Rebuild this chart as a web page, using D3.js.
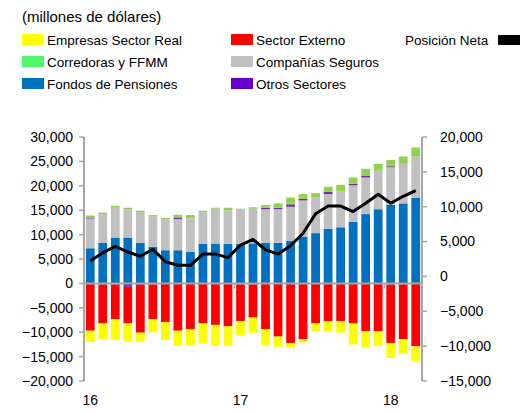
<!DOCTYPE html>
<html>
<head>
<meta charset="utf-8">
<script src="https://cdn.jsdelivr.net/npm/d3@7/dist/d3.min.js"></script>
<style>
  body { margin: 0; background: #fff; }
  text { font-family: "Liberation Sans", Arial, sans-serif; fill: #000; }
</style>
</head>
<body>
<svg id="chart" width="526" height="412"></svg>
<script>
// months Jan-2016 .. Mar-2018
const months = d3.range(27).map((i) => i);
const yearLabels = [{ i: 0, t: "16" }, { i: 12, t: "17" }, { i: 24, t: "18" }];

// positive stack (millions USD)
const fondos = [7200, 8300, 9400, 9400, 8300, 7500, 6800, 6800, 6500, 8100, 8100, 8100, 8100, 8200, 8300, 8300, 8700, 9600, 10300, 11200, 11500, 12600, 14200, 15200, 16100, 16400, 17600];
const seguros = [6100, 5900, 6100, 5800, 6300, 6200, 6300, 6400, 6800, 6500, 7200, 6900, 7000, 7100, 6900, 6900, 7000, 7400, 7300, 7100, 7300, 7500, 7500, 7900, 7700, 8100, 8400];
const otrosPos = [200, 0, 0, 0, 0, 0, 0, 300, 0, 0, 0, 0, 0, 0, 300, 300, 500, 300, 0, 500, 0, 300, 400, 0, 200, 0, 0];
const corredoras = [400, 300, 400, 300, 300, 300, 300, 550, 700, 300, 200, 500, 200, 300, 550, 900, 1400, 1000, 900, 1000, 1400, 1300, 1400, 1400, 1300, 1500, 1850];

// negative stack
const otrosNeg = [0, -200, -200, -700, -200, -200, 0, 0, 0, 0, 0, 0, -200, -200, 0, 0, 0, 0, 0, 0, 0, 0, 0, 0, -200, -200, 0];
const externo = [-9700, -8000, -7100, -7500, -9900, -7100, -7900, -9700, -9400, -8200, -8500, -8800, -7500, -6800, -9400, -10900, -12200, -11400, -8200, -7700, -7700, -8200, -9800, -9800, -12000, -11200, -12900];
const empresasReal = [-2300, -3200, -4300, -3800, -1900, -2700, -3700, -3100, -3200, -4100, -4300, -4000, -3000, -3100, -3200, -2100, -900, -700, -1600, -2100, -2400, -4300, -3300, -3000, -3100, -3000, -3000];

// net position (right axis)
const neta = [2200, 3400, 4300, 3500, 2900, 3900, 2100, 1600, 1600, 3200, 3200, 2700, 4500, 5300, 3800, 3200, 4400, 6200, 9000, 10100, 10100, 9300, 10500, 11800, 10500, 11500, 12300];

const leftTicks = d3.range(-20000, 30001, 5000);
const rightTicks = d3.range(-15000, 20001, 5000);

const colors = {
  fondos: "#0070C0",
  seguros: "#C0C0C0",
  otros: "#7030A0",
  corredoras: "#92D050",
  externo: "#FF0000",
  empresas: "#FFFF00",
};

const svg = d3.select("#chart");
const fmt = d3.format(",");

const x0 = 84, x1 = 422, yTop = 137, yBot = 381;

const x = d3.scaleBand().domain(months).range([x0, x1]).paddingInner(0.3).paddingOuter(0.15);
const yL = d3.scaleLinear().domain([-20000, 30000]).range([yBot, yTop]);
const yR = d3.scaleLinear().domain([-15000, 20000]).range([yBot, yTop]);

// build stacked segments
const segs = [];
months.forEach((i) => {
  let top = 0;
  [["fondos", fondos], ["seguros", seguros], ["otros", otrosPos], ["corredoras", corredoras]].forEach(([k, arr]) => {
    const v = arr[i];
    if (v > 0) segs.push({ i, k, a: top, b: top + v });
    top += v;
  });
  let bot = 0;
  [["otros", otrosNeg], ["externo", externo], ["empresas", empresasReal]].forEach(([k, arr]) => {
    const v = arr[i];
    if (v < 0) segs.push({ i, k, a: bot + v, b: bot });
    bot += v;
  });
});

svg.append("g")
  .selectAll("rect")
  .data(segs)
  .join("rect")
  .attr("x", (d) => x(d.i))
  .attr("width", x.bandwidth())
  .attr("y", (d) => yL(d.b))
  .attr("height", (d) => yL(d.a) - yL(d.b))
  .attr("fill", (d) => colors[d.k]);

// zero line and axes
const axisCol = "#A6A6A6";
svg.append("line")
  .attr("x1", x0).attr("x2", x1)
  .attr("y1", yL(0)).attr("y2", yL(0))
  .attr("stroke", axisCol).attr("stroke-width", 2);

[12, 24].forEach((i) => {
  const xx = x(i) - (x.step() - x.bandwidth()) / 2;
  svg.append("line")
    .attr("x1", xx).attr("x2", xx)
    .attr("y1", yL(0)).attr("y2", yL(0) + 5)
    .attr("stroke", axisCol).attr("stroke-width", 1.5);
});

const gl = svg.append("g");
gl.append("line").attr("x1", x0).attr("x2", x0).attr("y1", yTop).attr("y2", yBot)
  .attr("stroke", axisCol).attr("stroke-width", 2);
gl.selectAll("line.t").data(leftTicks).join("line").attr("class", "t")
  .attr("x1", x0 - 5).attr("x2", x0).attr("y1", (d) => yL(d)).attr("y2", (d) => yL(d))
  .attr("stroke", axisCol).attr("stroke-width", 1.5);
gl.selectAll("text").data(leftTicks).join("text")
  .attr("x", x0 - 11).attr("y", (d) => yL(d)).attr("dy", "0.35em")
  .attr("text-anchor", "end").style("font-size", "14px")
  .text((d) => fmt(d));

const gr = svg.append("g");
gr.append("line").attr("x1", x1).attr("x2", x1).attr("y1", yTop).attr("y2", yBot)
  .attr("stroke", axisCol).attr("stroke-width", 2);
gr.selectAll("line.t").data(rightTicks).join("line").attr("class", "t")
  .attr("x1", x1).attr("x2", x1 + 5).attr("y1", (d) => yR(d)).attr("y2", (d) => yR(d))
  .attr("stroke", axisCol).attr("stroke-width", 1.5);
gr.selectAll("text").data(rightTicks).join("text")
  .attr("x", x1 + 18).attr("y", (d) => yR(d)).attr("dy", "0.35em")
  .attr("text-anchor", "start").style("font-size", "14px")
  .text((d) => fmt(d));

svg.append("g").selectAll("text").data(yearLabels).join("text")
  .attr("x", (d) => x(d.i) + x.bandwidth() / 2)
  .attr("y", 405)
  .attr("text-anchor", "middle").style("font-size", "14px")
  .text((d) => d.t);

// net position line
svg.append("path")
  .datum(neta)
  .attr("fill", "none")
  .attr("stroke", "#000")
  .attr("stroke-width", 3)
  .attr("stroke-linejoin", "round")
  .attr("d", d3.line().x((d, i) => x(i) + x.bandwidth() / 2).y((d) => yR(d)));

// title + legend
svg.append("text").attr("x", 22).attr("y", 22).style("font-size", "15px").text("(millones de dólares)");

const legend = [
  { t: "Empresas Sector Real", c: "#FFFF00", col: 0, row: 0 },
  { t: "Corredoras y FFMM", c: "#4CF76A", col: 0, row: 1 },
  { t: "Fondos de Pensiones", c: "#0070C0", col: 0, row: 2 },
  { t: "Sector Externo", c: "#FF0000", col: 1, row: 0 },
  { t: "Compañías Seguros", c: "#C0C0C0", col: 1, row: 1 },
  { t: "Otros Sectores", c: "#6600CC", col: 1, row: 2 },
];
const colX = [22, 231];
const lg = svg.append("g").selectAll("g").data(legend).join("g")
  .attr("transform", (d) => `translate(${colX[d.col]},${40 + d.row * 22})`);
lg.append("rect").attr("x", 0).attr("y", -6).attr("width", 22).attr("height", 11).attr("fill", (d) => d.c);
lg.append("text").attr("x", 25).attr("y", 0).attr("dy", "0.35em").style("font-size", "13.5px").text((d) => d.t);

svg.append("text").attr("x", 405).attr("y", 40).attr("dy", "0.35em").style("font-size", "13.5px").text("Posición Neta");
svg.append("rect").attr("x", 498).attr("y", 35).attr("width", 22).attr("height", 10).attr("fill", "#000");
</script>
</body>
</html>
